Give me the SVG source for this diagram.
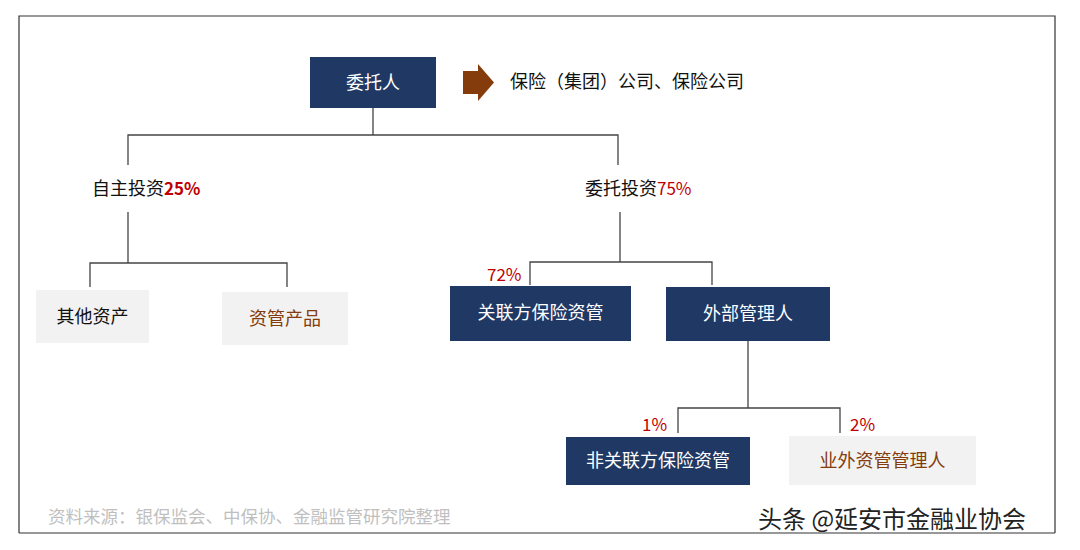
<svg xmlns="http://www.w3.org/2000/svg" width="1080" height="550" viewBox="0 0 1080 550">
<style>
text{font-family:"Noto Sans CJK SC","Liberation Sans",sans-serif;}
.navy{fill:#1f3864;}
.gray{fill:#f2f2f2;}
.wt{fill:#fff;font-size:18px;text-anchor:middle;}
.bk{fill:#111;font-size:18px;}
.br{fill:#843c0c;font-size:18px;text-anchor:middle;}
.red{fill:#c00000;font-size:17px;}
.ln{fill:none;stroke:#444;stroke-width:1.3;}
</style>
<rect width="1080" height="550" fill="#fff"/>
<path d="M19,533 V16 H1055 V533 M19,533 H1055" fill="none" stroke="#333" stroke-width="1.2"/>
<g id="connectors" class="ln">
<path d="M373,108 V135 M128,165 V135 H618 V165"/>
<path d="M128,212 V263 M90,287 V263 H287 V287"/>
<path d="M620,212 V262 M530,285 V262 H712 V285"/>
<path d="M748,341 V408 M678,433 V408 H840 V433"/>
</g>
<g id="n-weituoren"><rect class="navy" x="310" y="57" width="126" height="51"/><text class="wt" x="373" y="89">委托人</text></g>
<g id="n-arrow"><polygon points="463,71 478,71 478,64 494,82.5 478,101 478,94 463,94" fill="#843c0c"/></g>
<g id="n-insurer"><text class="bk" x="510" y="88">保险（集团）公司、保险公司</text></g>
<g id="n-zizhu"><text class="bk" x="92" y="195">自主投资<tspan class="red" font-weight="bold">25%</tspan></text></g>
<g id="n-weituo"><text class="bk" x="585" y="195">委托投资<tspan class="red">75%</tspan></text></g>
<g id="n-other"><rect class="gray" x="36" y="290" width="113" height="53"/><text class="bk" x="92.5" y="323" text-anchor="middle">其他资产</text></g>
<g id="n-product"><rect class="gray" x="222" y="292" width="126" height="53"/><text class="br" x="285" y="325">资管产品</text></g>
<g id="n-guanlian"><rect class="navy" x="450" y="286" width="181" height="55"/><text class="wt" x="540.5" y="319">关联方保险资管</text><text class="red" x="487" y="281">72%</text></g>
<g id="n-waibu"><rect class="navy" x="666" y="287" width="164" height="54"/><text class="wt" x="748" y="320">外部管理人</text></g>
<g id="n-feiguanlian"><rect class="navy" x="566" y="437" width="184" height="48"/><text class="wt" x="658" y="467">非关联方保险资管</text><text class="red" x="642" y="431">1%</text></g>
<g id="n-yewai"><rect class="gray" x="789" y="436" width="187" height="49"/><text class="br" x="882.5" y="467">业外资管管理人</text><text class="red" x="850" y="431">2%</text></g>
<text x="48" y="523" fill="#bfbfbf" font-size="17.5">资料来源：银保监会、中保协、金融监管研究院整理</text>
<text x="758" y="528" fill="#222" font-size="24">头条 @延安市金融业协会</text>
</svg>
